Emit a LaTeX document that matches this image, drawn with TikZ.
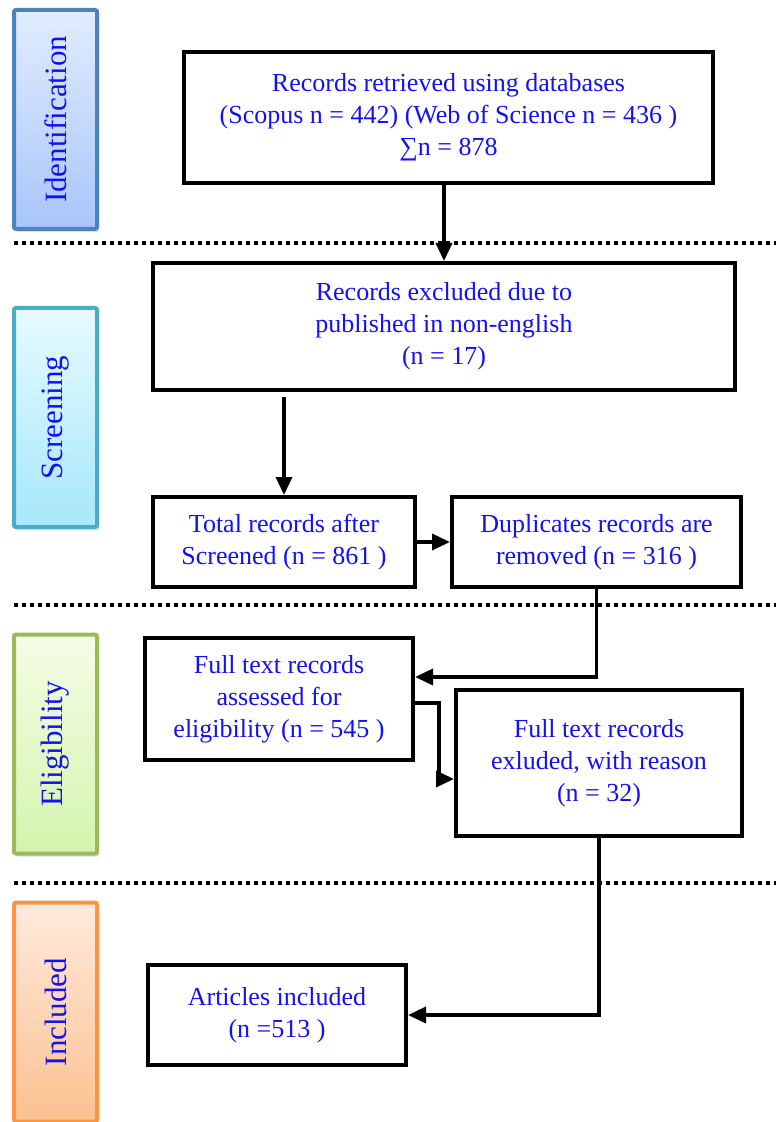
\documentclass[tikz,border=0pt]{standalone}
\usepackage{fontspec}
\setmainfont{Liberation Serif}
\usetikzlibrary{arrows.meta,shadows}
\definecolor{textblue}{RGB}{18,18,240}
\definecolor{idline}{HTML}{4F81BD}\definecolor{idtop}{HTML}{E1ECFF}\definecolor{idbot}{HTML}{A8C6FA}
\definecolor{scline}{HTML}{4BACC6}\definecolor{sctop}{HTML}{E6FAFF}\definecolor{scbot}{HTML}{A6E8FA}
\definecolor{elline}{HTML}{9BBB59}\definecolor{eltop}{HTML}{F4FDE6}\definecolor{elbot}{HTML}{D5F4AE}
\definecolor{inline}{HTML}{F79646}\definecolor{intop}{HTML}{FFEADD}\definecolor{inbot}{HTML}{FBC190}
\tikzset{stage/.style n args={3}{draw=#1,line width=2pt,rounded corners=1pt,top color=#2,bottom color=#3,
	rotate=90,minimum width=109.5pt,minimum height=41.5pt,inner sep=0pt,text=textblue,
	font=\fontsize{15.5}{18}\selectfont,drop shadow={opacity=0.25,shadow xshift=1pt,shadow yshift=-1.5pt}}}
\tikzset{stepbox/.style={draw,line width=2pt,align=center,text=textblue,inner sep=0pt,
	font=\fontsize{13}{16}\selectfont}}
\tikzset{flow/.style={line width=1.8pt,-{Triangle[length=9pt,width=8pt]}}}
\tikzset{separator/.style={line width=1.6pt,dash pattern=on 2pt off 2pt}}

\begin{document}
\begin{tikzpicture}[x=0.5pt,y=-0.5pt]
		\useasboundingbox (0,0) rectangle (776,1122);
		
		% stages
		\node [stage={idline}{idtop}{idbot}] (ident) at (55.5,119.5) {Identification};
		\node [stage={scline}{sctop}{scbot}] (screen) at (55.5,417.5) {Screening};
		\node [stage={elline}{eltop}{elbot}] (elig) at (55.5,744) {Eligibility};
		\node [stage={inline}{intop}{inbot}] (incl) at (55.5,1012) {Included};
		
		\draw [separator] (14,243) -- (776,243);
		\draw [separator] (14,605) -- (776,605);
		\draw [separator] (14,883) -- (776,883);
		
		% boxes
		\node [stepbox,minimum width=264.5pt,minimum height=65.5pt] (rec) at (448.5,117.5)
			{Records retrieved using databases\\(Scopus n = 442) (Web of Science n = 436 )\\∑n = 878};
		\node [stepbox,minimum width=291pt,minimum height=63.5pt] (excl) at (444,326.5)
			{Records excluded due to\\published in non-english\\(n = 17)};
		\node [stepbox,minimum width=131pt,minimum height=45pt] (total) at (284,542)
			{Total records after\\Screened (n = 861 )};
		\node [stepbox,minimum width=144.5pt,minimum height=45pt] (dupl) at (596.5,542)
			{Duplicates records are\\removed (n = 316 )};
		\node [stepbox,minimum width=134pt,minimum height=61pt] (full) at (279,699)
			{Full text records\\assessed for\\eligibility (n = 545 )};
		\node [stepbox,minimum width=143pt,minimum height=73pt] (fullex) at (599,763)
			{Full text records\\exluded, with reason\\(n = 32)};
		\node [stepbox,minimum width=129pt,minimum height=50pt] (art) at (277,1015)
			{Articles included\\(n =513 )};
		
		% arrows
		\coordinate (cut) at (284,397);
		\draw [flow] (excl.north |- rec.south) -- (excl.north);
		\draw [flow] (cut) -- (total.north);
		\draw [flow] (total.east) -- (dupl.west);
		\draw [flow] (dupl.south) |- ([yshift=11pt]full.east);
		\draw [flow] ([yshift=-2pt]full.east) -- ++(12pt,0) |- ([yshift=-8pt]fullex.west);
		\draw [flow] (fullex.south) |- (art.east);
	\end{tikzpicture}
\end{document}
